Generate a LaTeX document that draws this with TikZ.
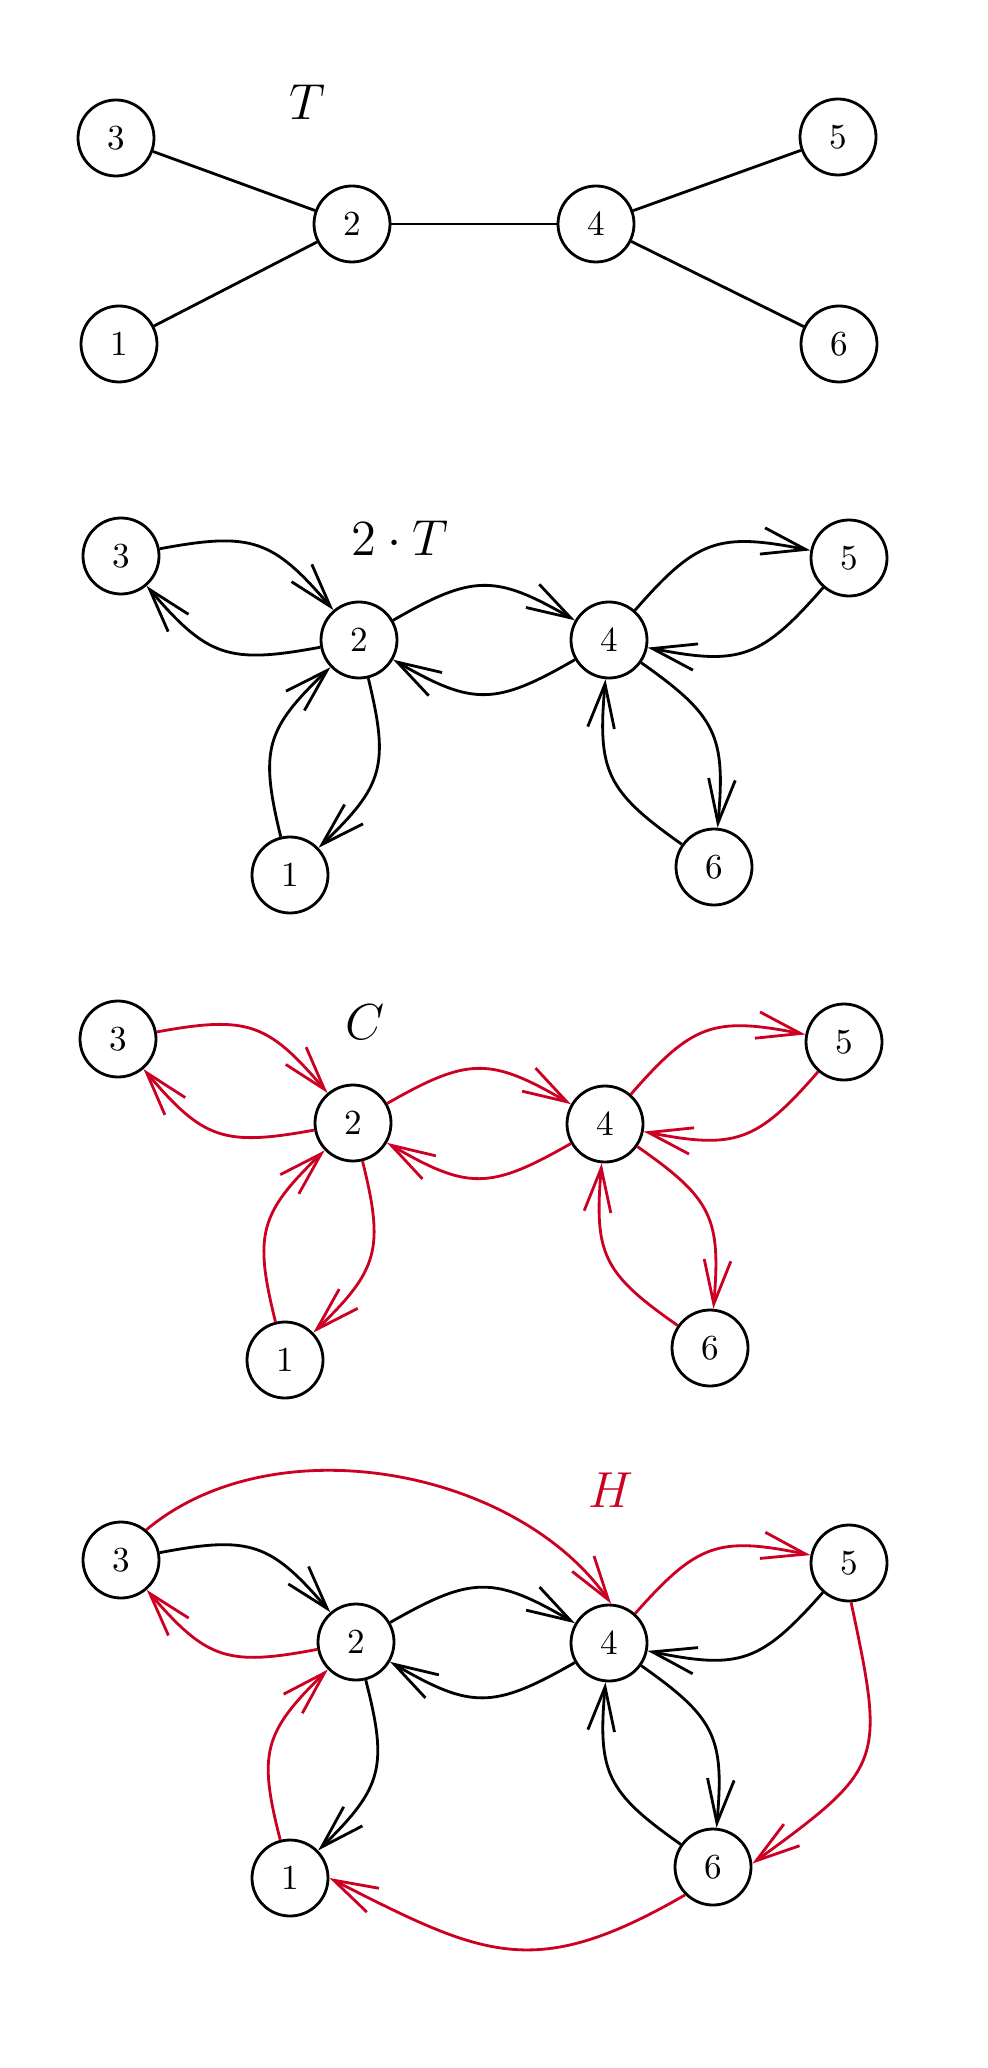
\documentclass[tikz,border=0pt]{standalone}
\usepackage{amsmath, amssymb}
\usepackage{tikz}
\usetikzlibrary{arrows.meta}
\usepackage{xcolor}
\definecolor{cycleRed}{HTML}{CC0022}

\begin{document}
\begin{tikzpicture}[
    font=\normalsize,
    vert/.style={draw, circle, minimum size=0.76cm, inner sep=0pt, line width=0.8pt},
    link/.style={line width=0.8pt},
    darc/.style={line width=0.8pt, -{Straight Barb[length=12.5pt,width=7.6pt]}, bend left=30, looseness=1.3},
    farc/.style={line width=0.8pt, -{Straight Barb[length=12.5pt,width=7.6pt]}},
    title/.style={font=\Large}
  ]
  \useasboundingbox (0,0) rectangle (9.88,-20.68);

  % the tree T
  \node[title] (tT) at (3.07,-1.02) {$T$};
  \node[vert] (t3) at (1.16,-1.38) {3};
  \node[vert] (t2) at (3.52,-2.24) {2};
  \node[vert] (t4) at (5.96,-2.24) {4};
  \node[vert] (t5) at (8.38,-1.37) {5};
  \node[vert] (t1) at (1.19,-3.44) {1};
  \node[vert] (t6) at (8.39,-3.44) {6};
  \draw[link] (t3) -- (t2);
  \draw[link] (t1) -- (t2);
  \draw[link] (t2) -- (t4);
  \draw[link] (t4) -- (t5);
  \draw[link] (t4) -- (t6);

  % doubled tree 2T
  \node[title] (dT) at (4.00,-5.38) {$2\cdot T$};
  \node[vert] (d3) at (1.21,-5.56) {3};
  \node[vert] (d2) at (3.59,-6.40) {2};
  \node[vert] (d4) at (6.09,-6.40) {4};
  \node[vert] (d5) at (8.49,-5.58) {5};
  \node[vert] (d1) at (2.90,-8.75) {1};
  \node[vert] (d6) at (7.14,-8.67) {6};
  \draw[darc] (d3) to (d2);
  \draw[darc] (d2) to (d3);
  \draw[darc] (d2) to (d4);
  \draw[darc] (d4) to (d2);
  \draw[darc] (d4) to (d5);
  \draw[darc] (d5) to (d4);
  \draw[darc] (d4) to (d6);
  \draw[darc] (d6) to (d4);
  \draw[darc] (d1) to (d2);
  \draw[darc] (d2) to (d1);

  % Euler tour C
  \node[title] (cT) at (3.65,-10.22) {$C$};
  \node[vert] (c3) at (1.18,-10.39) {3};
  \node[vert] (c2) at (3.53,-11.23) {2};
  \node[vert] (c4) at (6.05,-11.24) {4};
  \node[vert] (c5) at (8.44,-10.42) {5};
  \node[vert] (c1) at (2.85,-13.60) {1};
  \node[vert] (c6) at (7.10,-13.48) {6};
  \begin{scope}[cycleRed]
    \draw[darc] (c3) to (c2);
    \draw[darc] (c2) to (c3);
    \draw[darc] (c2) to (c4);
    \draw[darc] (c4) to (c2);
    \draw[darc] (c4) to (c5);
    \draw[darc] (c5) to (c4);
    \draw[darc] (c4) to (c6);
    \draw[darc] (c6) to (c4);
    \draw[darc] (c1) to (c2);
    \draw[darc] (c2) to (c1);
  \end{scope}

  % Hamiltonian cycle H
  \node[title, text=cycleRed] (hT) at (6.11,-14.90) {$H$};
  \node[vert] (h3) at (1.21,-15.60) {3};
  \node[vert] (h2) at (3.56,-16.42) {2};
  \node[vert] (h4) at (6.09,-16.43) {4};
  \node[vert] (h5) at (8.49,-15.63) {5};
  \node[vert] (h1) at (2.90,-18.78) {1};
  \node[vert] (h6) at (7.13,-18.67) {6};
  \draw[darc] (h3) to (h2);
  \draw[darc, cycleRed] (h2) to (h3);
  \draw[darc] (h2) to (h4);
  \draw[darc] (h4) to (h2);
  \draw[darc, cycleRed] (h4) to (h5);
  \draw[darc] (h5) to (h4);
  \draw[darc] (h4) to (h6);
  \draw[darc] (h6) to (h4);
  \draw[darc, cycleRed] (h1) to (h2);
  \draw[darc] (h2) to (h1);
  \draw[farc, cycleRed] (h3.50) to[out=40, in=125, looseness=0.9] (h4.87);
  \draw[farc, cycleRed] (h5.-87) to[out=-78, in=36, looseness=1.5] (h6.5);
  \draw[farc, cycleRed] (h6.225) to[out=210, in=-27, looseness=1.25] (h1.0);
\end{tikzpicture}
\end{document}
